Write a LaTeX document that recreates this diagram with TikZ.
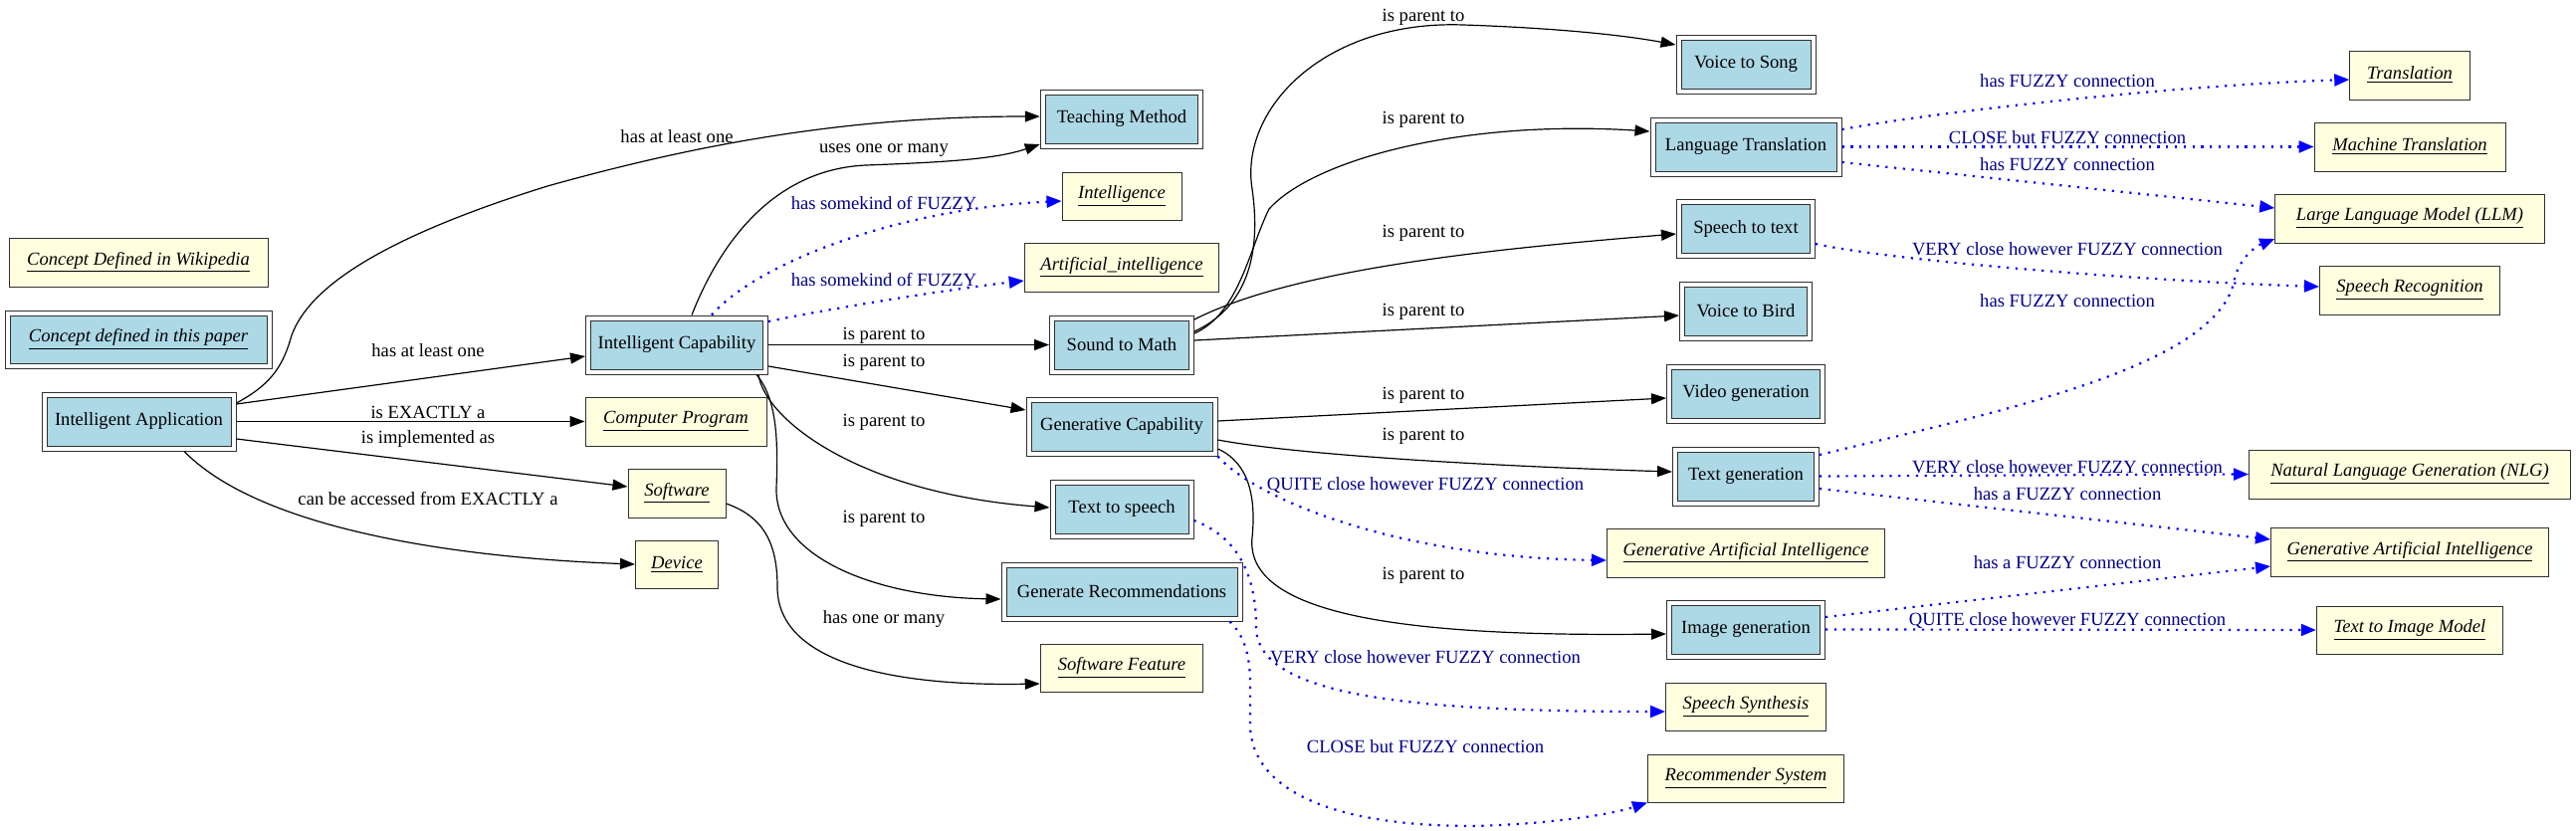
\documentclass[tikz,border=0pt]{standalone}
\usepackage{fontspec}
\setmainfont{Liberation Serif}
\usetikzlibrary{arrows.meta}
\definecolor{lblue}{HTML}{ADD8E6}
\definecolor{lyellow}{HTML}{FFFFE0}
\definecolor{bord}{HTML}{303030}
\definecolor{lblcol}{HTML}{00008B}
\newcommand{\wlink}[1]{\textit{\underline{#1}}}
\begin{document}
\begin{tikzpicture}[x=0.5pt,y=-0.5pt,
  txt/.style={font=\fontsize{9.3}{11}\selectfont},
  cnode/.style={txt, draw=bord, line width=0.5pt, double=white, double distance=2pt, fill=lblue, inner sep=0pt, outer sep=1.5pt, minimum height=27pt},
  wnode/.style={txt, draw=bord, line width=0.5pt, fill=lyellow, inner sep=0pt, outer sep=0.25pt, minimum height=24.5pt},
  arr/.style={color=black, line width=0.6pt, -{Triangle[length=7.5pt,width=5.5pt,fill=black]}},
  fz/.style={color=blue, line width=1.1pt, dash pattern=on 1.1pt off 3.3pt, -{Triangle[length=7.5pt,width=6pt,fill=blue]}},
  lbl/.style={txt, inner sep=0pt, text=black},
  flbl/.style={txt, inner sep=0pt, text=lblcol}]
\path[use as bounding box, fill=white] (0,0) rectangle (2588,835);

% legend
\node[wnode, minimum width=130pt] (LWIKI) at (139,263.5) {\wlink{Concept Defined in Wikipedia}};
\node[cnode, minimum width=131.5pt, minimum height=26.5pt] (LPAPER) at (139,341) {\wlink{Concept defined in this paper}};

% column 1
\node[cnode, minimum width=95pt] (IA) at (139.5,423.5) {Intelligent Application};

% column 2
\node[cnode, minimum width=89pt] (IC) at (680,346.5) {Intelligent Capability};
\node[wnode, minimum width=91pt] (CP) at (679,423.5) {\wlink{Computer Program}};
\node[wnode, minimum width=49pt] (SW) at (680,495.5) {\wlink{Software}};
\node[wnode, minimum width=41.5pt, minimum height=24pt] (DV) at (680,567) {\wlink{Device}};

% column 3
\node[cnode, minimum width=79.25pt] (TM) at (1127,119.5) {Teaching Method};
\node[wnode, minimum width=60pt, minimum height=24pt] (INT) at (1127,197) {\wlink{Intelligence}};
\node[wnode, minimum width=97.75pt] (AI) at (1127,268.5) {\wlink{Artificial\_intelligence}};
\node[cnode, minimum width=70pt] (SM) at (1127,346.5) {Sound to Math};
\node[cnode, minimum width=93.5pt] (GC) at (1127,428.5) {Generative Capability};
\node[cnode, minimum width=69.5pt] (TS) at (1127,511.5) {Text to speech};
\node[cnode, minimum width=118.5pt] (GR) at (1127,594.5) {Generate Recommendations};
\node[wnode, minimum width=81.75pt, minimum height=24pt] (SF) at (1127,671) {\wlink{Software Feature}};

% column 4
\node[cnode, minimum width=67.5pt] (VS) at (1754,64.5) {Voice to Song};
\node[cnode, minimum width=93.5pt] (LT) at (1754,147.5) {Language Translation};
\node[cnode, minimum width=67pt] (ST) at (1754,230) {Speech to text};
\node[cnode, minimum width=64pt] (VB) at (1754,312.5) {Voice to Bird};
\node[cnode, minimum width=77pt] (VG) at (1754,395.5) {Video generation};
\node[cnode, minimum width=71pt] (TG) at (1754,478.5) {Text generation};
\node[wnode, minimum width=139.5pt] (GAI1) at (1754,555.5) {\wlink{Generative Artificial Intelligence}};
\node[cnode, minimum width=77pt] (IG) at (1754,632.5) {Image generation};
\node[wnode, minimum width=80.5pt, minimum height=24pt] (SS) at (1754,710) {\wlink{Speech Synthesis}};
\node[wnode, minimum width=98.5pt, minimum height=24pt] (RS) at (1754,782) {\wlink{Recommender System}};

% column 5
\node[wnode, minimum width=60.25pt] (TR) at (2421,75.5) {\wlink{Translation}};
\node[wnode, minimum width=96pt] (MT) at (2421,147.5) {\wlink{Machine Translation}};
\node[wnode, minimum width=135.25pt] (LLM) at (2421,219.5) {\wlink{Large Language Model (LLM)}};
\node[wnode, minimum width=90.5pt] (SR) at (2421,291.5) {\wlink{Speech Recognition}};
\node[wnode, minimum width=161.5pt] (NLG) at (2421,476.5) {\wlink{Natural Language Generation (NLG)}};
\node[wnode, minimum width=139.5pt] (GAI2) at (2421,554.5) {\wlink{Generative Artificial Intelligence}};
\node[wnode, minimum width=93.75pt, minimum height=24pt] (TIM) at (2421,633) {\wlink{Text to Image Model}};

% black edges
\draw[arr] ([yshift=9.25pt]IA.east) .. controls (275,385) and (285,365) .. (293,337) .. controls (310,290) and (380,240) .. (550,187) .. controls (700,145) and (850,117) .. ([yshift=1.25pt]TM.west) node[lbl] at (680,137) {has at least one};
\draw[arr] ([yshift=8.75pt]IA.east) -- ([yshift=-5.75pt]IC.west) node[lbl] at (430,352) {has at least one};
\draw[arr] (IA.east) -- (CP.west) node[lbl] at (430,414) {is EXACTLY a};
\draw[arr] ([yshift=-8.75pt]IA.east) -- ([yshift=3.25pt]SW.west) node[lbl] at (430,441) {is implemented as};
\draw[arr] ([xshift=22.75pt]IA.south) .. controls (260,530) and (450,560) .. (DV.west) node[lbl] at (430,501) {can be accessed from EXACTLY a};

\draw[arr] ([xshift=7.5pt]IC.north) .. controls (725,240) and (780,170) .. (870,166) .. controls (950,163) and (1000,160) .. ([yshift=-12.75pt]TM.west) node[lbl] at (888,151) {uses one or many};
\draw[arr] (IC.east) -- (SM.west) node[lbl] at (888,337) {is parent to};
\draw[arr] ([yshift=-10.75pt]IC.east) -- ([yshift=8.25pt]GC.west) node[lbl] at (888,364) {is parent to};
\draw[arr] ([xshift=-5pt]IC.south east) .. controls (768,420) and (860,495) .. ([yshift=0.75pt]TS.west) node[lbl] at (888,424) {is parent to};
\draw[arr] ([xshift=-6pt]IC.south east) .. controls (780,400) and (782,440) .. (780,490) .. controls (778,560) and (880,600) .. ([yshift=-3.75pt]GR.west) node[lbl] at (888,521) {is parent to};
\draw[arr] ([yshift=-5.25pt]SW.east) .. controls (770,520) and (781,550) .. (781,590) .. controls (781,660) and (880,690) .. ([yshift=-8pt]SF.west) node[lbl] at (888,622) {has one or many};

\draw[arr] ([yshift=6.75pt]SM.east) .. controls (1250,310) and (1268,260) .. (1258,190) .. controls (1245,110) and (1330,20) .. (1470,25) .. controls (1560,28) and (1630,35) .. ([yshift=9.75pt]VS.west) node[lbl] at (1430,17) {is parent to};
\draw[arr] ([yshift=5.75pt]SM.east) .. controls (1245,315) and (1255,250) .. (1275,210) .. controls (1320,160) and (1470,120) .. ([yshift=7.75pt]LT.west) node[lbl] at (1430,120) {is parent to};
\draw[arr] ([yshift=12.75pt]SM.east) .. controls (1300,270) and (1500,250) .. ([yshift=-2.5pt]ST.west) node[lbl] at (1430,234) {is parent to};
\draw[arr] ([yshift=2.25pt]SM.east) -- ([yshift=-2.25pt]VB.west) node[lbl] at (1430,313) {is parent to};
\draw[arr] ([yshift=2.75pt]GC.east) -- ([yshift=-2.25pt]VG.west) node[lbl] at (1430,397) {is parent to};
\draw[arr] ([yshift=-6.75pt]GC.east) .. controls (1320,460) and (1550,470) .. ([yshift=2.25pt]TG.west) node[lbl] at (1430,438) {is parent to};
\draw[arr] ([yshift=-11.25pt]GC.east) .. controls (1255,465) and (1262,500) .. (1258,540) .. controls (1250,620) and (1420,640) .. ([yshift=-2.25pt]IG.west) node[lbl] at (1430,578) {is parent to};

% fuzzy edges
\draw[fz] ([xshift=17.5pt]IC.north) .. controls (760,265) and (900,210) .. ([yshift=-2.5pt]INT.west) node[flbl] at (888,204) {has somekind of FUZZY};
\draw[fz] ([yshift=11.75pt]IC.east) .. controls (850,307) and (960,290) .. ([yshift=-6.75pt]AI.west) node[flbl] at (888,281) {has somekind of FUZZY};
\draw[fz] ([yshift=8.75pt]LT.east) .. controls (1960,110) and (2200,85) .. ([yshift=-2.25pt]TR.west) node[flbl] at (2077,81) {has FUZZY connection};
\draw[fz] (LT.east) -- (MT.west) node[flbl] at (2077,138) {CLOSE but FUZZY connection};
\draw[fz] ([yshift=-7.75pt]LT.east) -- ([yshift=5.25pt]LLM.west) node[flbl] at (2077,165) {has FUZZY connection};
\draw[fz] ([yshift=-7.5pt]ST.east) .. controls (1900,262) and (2150,282) .. ([yshift=1.75pt]SR.west) node[flbl] at (2077,250) {VERY close however FUZZY connection};
\draw[fz] ([yshift=10.75pt]TG.east) .. controls (2000,415) and (2230,370) .. (2245,280) .. controls (2250,260) and (2265,248) .. ([yshift=-10.25pt]LLM.west) node[flbl] at (2077,302) {has FUZZY connection};
\draw[fz] (TG.east) -- (NLG.west) node[flbl] at (2077,469) {VERY close however FUZZY connection};
\draw[fz] ([yshift=-6.25pt]TG.east) -- ([yshift=6.25pt]GAI2.west) node[flbl] at (2077,496) {has a FUZZY connection};
\draw[fz] ([yshift=6.25pt]IG.east) -- ([yshift=-7.25pt]GAI2.west) node[flbl] at (2077,565) {has a FUZZY connection};
\draw[fz] (IG.east) -- (TIM.west) node[flbl] at (2077,624) {QUITE close however FUZZY connection};
\draw[fz] (GC.south east) .. controls (1260,500) and (1400,560) .. ([yshift=-3.75pt]GAI1.west) node[flbl] at (1432,488) {QUITE close however FUZZY connection};
\draw[fz] ([yshift=-5.75pt]TS.east) .. controls (1245,540) and (1262,580) .. (1262,630) .. controls (1262,700) and (1420,715) .. ([yshift=-2.5pt]SS.west) node[flbl] at (1432,660) {VERY close however FUZZY connection};
\draw[fz] ([xshift=-6.5pt]GR.south east) .. controls (1262,650) and (1255,690) .. (1256,730) .. controls (1258,790) and (1330,830) .. (1480,830) .. controls (1560,828) and (1620,818) .. (RS.south west) node[flbl] at (1432,750) {CLOSE but FUZZY connection};
\end{tikzpicture}
\end{document}
